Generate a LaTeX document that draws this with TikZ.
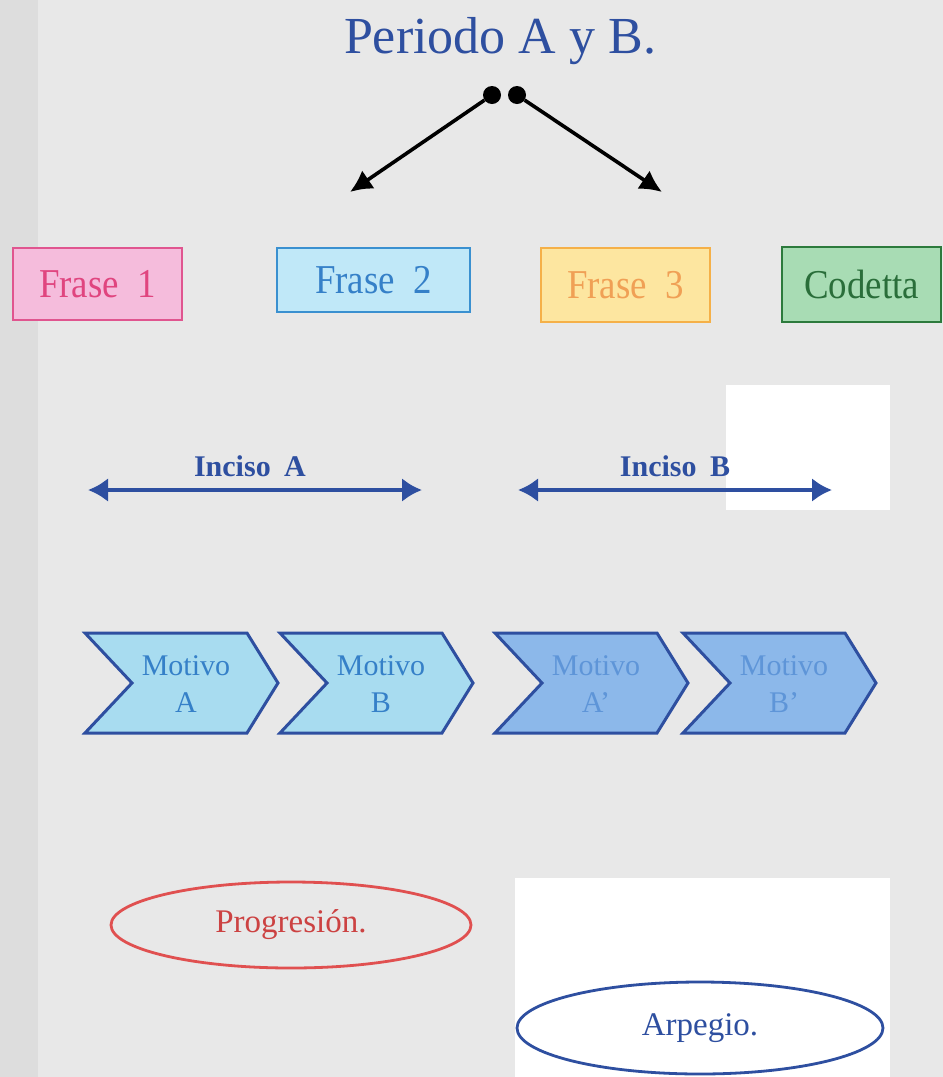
\documentclass[tikz,border=0pt]{standalone}
\usepackage{fontspec}
\setmainfont{Liberation Serif}
\newfontfamily\narrowserif[FakeStretch=0.9]{Liberation Serif}
\usetikzlibrary{arrows.meta,shapes.geometric}

\definecolor{paper}{HTML}{E8E8E8}
\definecolor{paperdark}{HTML}{DDDDDD}
\definecolor{inkblue}{HTML}{2E4FA0}
\definecolor{pinkfill}{HTML}{F5BCDC}
\definecolor{pinkline}{HTML}{E0558F}
\definecolor{pinktext}{HTML}{E0457F}
\definecolor{skyfill}{HTML}{C0E8F8}
\definecolor{skyline}{HTML}{3A90D0}
\definecolor{skytext}{HTML}{3580C8}
\definecolor{sunfill}{HTML}{FDE6A0}
\definecolor{sunline}{HTML}{F5B048}
\definecolor{suntext}{HTML}{F0A055}
\definecolor{leaffill}{HTML}{A8DCB4}
\definecolor{leafline}{HTML}{2C7A3C}
\definecolor{leaftext}{HTML}{2A6E3A}
\definecolor{chevlight}{HTML}{A8DCF0}
\definecolor{chevdark}{HTML}{8CB8EA}
\definecolor{chevtextdark}{HTML}{5E95D8}
\definecolor{redline}{HTML}{E05050}
\definecolor{redtext}{HTML}{CC4242}

\tikzset{
  frasebox/.style={draw, line width=2.6pt, rectangle, inner sep=0pt,
    font=\narrowserif\fontsize{41}{41}\selectfont},
  motivotext/.style={align=center, inner sep=0pt,
    font=\fontsize{30}{37}\selectfont},
  incisotext/.style={anchor=base, inner sep=0pt, text=inkblue,
    font=\bfseries\fontsize{30}{30}\selectfont},
  incisoarrow/.style={draw=inkblue, line width=4pt,
    {Latex[length=20pt,width=24pt]}-{Latex[length=20pt,width=24pt]}},
  splitarrow/.style={draw=black, line width=3.6pt, -{Latex[length=22pt,width=22pt]}},
  dot/.style={circle, fill=black, minimum size=18pt, inner sep=0pt},
  chevron/.style={draw=inkblue, line width=3pt, line join=miter},
  oval/.style={ellipse, line width=2.8pt, inner sep=0pt,
    font=\fontsize{33}{33}\selectfont},
}

\begin{document}
\begin{tikzpicture}[x=1pt, y=-1pt]
  % paper
  \fill[paper] (0,0) rectangle (943,1077);
  \fill[paperdark] (0,0) rectangle (38,1077);
  \fill[white] (726,385) rectangle (890,510);
  \fill[white] (515,878) rectangle (890,1077);
  \useasboundingbox (0,0) rectangle (943,1077);

  % title and split
  \node[anchor=base, inner sep=0pt, text=inkblue,
        font=\fontsize{52}{52}\selectfont] (title) at (500,53) {Periodo A y B.};
  \node[dot] (dotL) at (492,95) {};
  \node[dot] (dotR) at (517,95) {};
  \coordinate (tipL) at (350,192);
  \coordinate (tipR) at (662,192);
  \draw[splitarrow] (dotL) -- (tipL);
  \draw[splitarrow] (dotR) -- (tipR);

  % phrases
  \node[frasebox, fill=pinkfill, draw=pinkline, text=pinktext,
        minimum width=169pt, minimum height=72pt] (f1) at (97.5,284) {Frase\hspace{0.45em}1};
  \node[frasebox, fill=skyfill, draw=skyline, text=skytext,
        minimum width=193pt, minimum height=64pt] (f2) at (373.5,280) {Frase\hspace{0.45em}2};
  \node[frasebox, fill=sunfill, draw=sunline, text=suntext,
        minimum width=169pt, minimum height=74pt] (f3) at (625.5,285) {Frase\hspace{0.45em}3};
  \node[frasebox, fill=leaffill, draw=leafline, text=leaftext,
        minimum width=159pt, minimum height=75pt] (coda) at (861.5,284.5) {Codetta};

  % incisos
  \coordinate (iaL) at (88,490);
  \coordinate (iaR) at (422,490);
  \coordinate (ibL) at (518,490);
  \coordinate (ibR) at (832,490);
  \draw[incisoarrow] (iaL) -- (iaR);
  \draw[incisoarrow] (ibL) -- (ibR);
  \node[incisotext] (ia) at (250,476) {Inciso\hspace{0.45em}A};
  \node[incisotext] (ib) at (675,476) {Inciso\hspace{0.45em}B};

  % motifs
  \foreach \L/\fillc/\textc/\lab/\nm in {85/chevlight/skytext/A/ma, 280/chevlight/skytext/B/mb,
      495/chevdark/chevtextdark/A'/mc, 683/chevdark/chevtextdark/B'/md}{
    \draw[chevron, fill=\fillc] (\L,633) -- ++(162,0) -- ++(31,50) -- ++(-31,50)
      -- ++(-162,0) -- ++(47,-50) -- cycle;
    \node[motivotext, text=\textc] (\nm) at (\L+101,684) {Motivo\\\lab};
  }

  % figures
  \node[oval, draw=redline, text=redtext, minimum width=360pt, minimum height=86pt]
    (prog) at (291,925) {Progresión.};
  \node[oval, draw=inkblue, text=inkblue, minimum width=366pt, minimum height=92pt]
    (arp) at (700,1028) {Arpegio.};
\end{tikzpicture}
\end{document}
